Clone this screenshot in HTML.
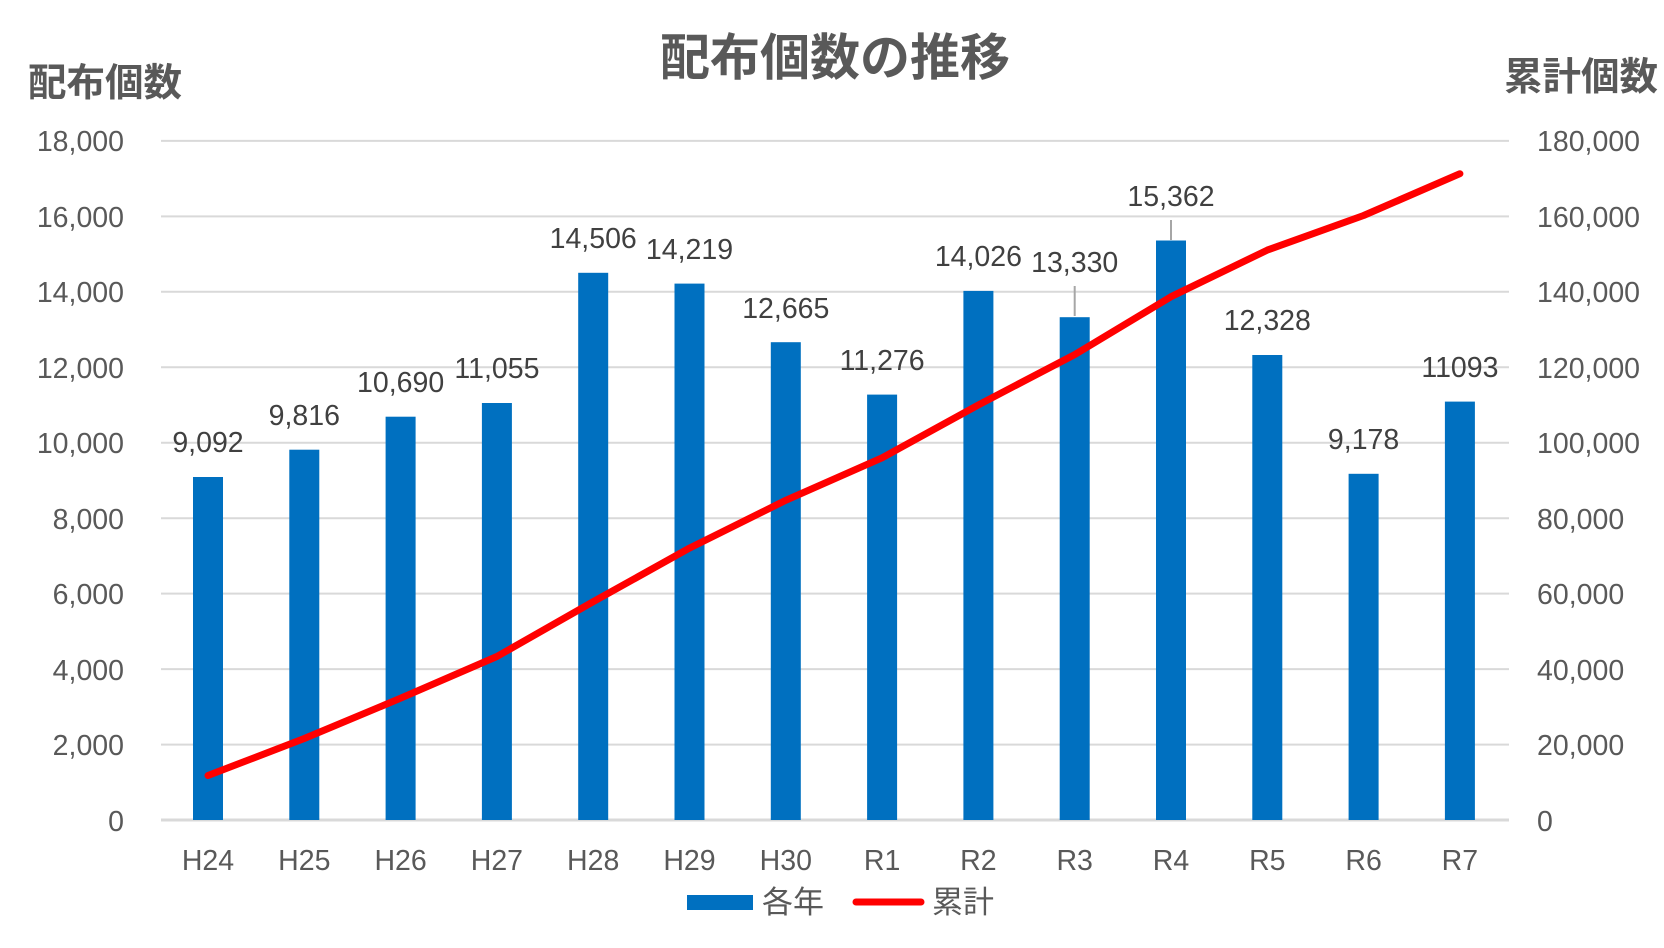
<!DOCTYPE html>
<html><head><meta charset="utf-8"><style>
html,body{margin:0;padding:0;background:#fff;}
svg{display:block;}
text{font-family:"Liberation Sans","Noto Sans CJK JP",sans-serif;fill:#595959;}
.t{font-size:28.5px;}
.d{font-size:28.5px;fill:#404040;text-anchor:middle;}
</style></head><body>
<svg width="1664" height="948" viewBox="0 0 1664 948" xmlns="http://www.w3.org/2000/svg">
<rect width="1664" height="948" fill="#fff"/>
<g stroke="#d9d9d9" stroke-width="2">
<line x1="161" x2="1509" y1="140.9" y2="140.9"/>
<line x1="161" x2="1509" y1="216.4" y2="216.4"/>
<line x1="161" x2="1509" y1="291.8" y2="291.8"/>
<line x1="161" x2="1509" y1="367.3" y2="367.3"/>
<line x1="161" x2="1509" y1="442.7" y2="442.7"/>
<line x1="161" x2="1509" y1="518.2" y2="518.2"/>
<line x1="161" x2="1509" y1="593.6" y2="593.6"/>
<line x1="161" x2="1509" y1="669.1" y2="669.1"/>
<line x1="161" x2="1509" y1="744.6" y2="744.6"/>
</g>
<line x1="161" x2="1509" y1="820" y2="820" stroke="#d9d9d9" stroke-width="3"/>
<g text-anchor="end">
<text class="t" x="124" y="151">18,000</text>
<text class="t" x="124" y="227">16,000</text>
<text class="t" x="124" y="302">14,000</text>
<text class="t" x="124" y="378">12,000</text>
<text class="t" x="124" y="453">10,000</text>
<text class="t" x="124" y="529">8,000</text>
<text class="t" x="124" y="604">6,000</text>
<text class="t" x="124" y="680">4,000</text>
<text class="t" x="124" y="755">2,000</text>
<text class="t" x="124" y="831">0</text>
</g>
<g>
<text class="t" x="1537" y="151">180,000</text>
<text class="t" x="1537" y="227">160,000</text>
<text class="t" x="1537" y="302">140,000</text>
<text class="t" x="1537" y="378">120,000</text>
<text class="t" x="1537" y="453">100,000</text>
<text class="t" x="1537" y="529">80,000</text>
<text class="t" x="1537" y="604">60,000</text>
<text class="t" x="1537" y="680">40,000</text>
<text class="t" x="1537" y="755">20,000</text>
<text class="t" x="1537" y="831">0</text>
</g>
<g fill="#0070c0">
<rect x="193" y="477.0" width="30" height="343"/>
<rect x="289.3" y="449.7" width="30" height="370.3"/>
<rect x="385.6" y="416.7" width="30" height="403.3"/>
<rect x="481.9" y="403.0" width="30" height="417"/>
<rect x="578.2" y="272.8" width="30" height="547.2"/>
<rect x="674.5" y="283.6" width="30" height="536.4"/>
<rect x="770.8" y="342.2" width="30" height="477.8"/>
<rect x="867.1" y="394.6" width="30" height="425.4"/>
<rect x="963.4" y="290.9" width="30" height="529.1"/>
<rect x="1059.7" y="317.2" width="30" height="502.8"/>
<rect x="1156" y="240.5" width="30" height="579.5"/>
<rect x="1252.3" y="355.0" width="30" height="465"/>
<rect x="1348.6" y="473.8" width="30" height="346.2"/>
<rect x="1444.9" y="401.6" width="30" height="418.4"/>
</g>
<polyline fill="none" stroke="#ff0000" stroke-width="7" stroke-linecap="round" stroke-linejoin="round"
points="208,775.5 304.3,738.5 400.6,698.2 496.9,656.5 593.2,601.7 689.5,548.1 785.8,500.3 882.1,457.8 978.4,404.9 1074.7,354.6 1171,296.7 1267.3,250.1 1363.6,215.5 1459.9,173.7"/>
<g stroke="#a6a6a6" stroke-width="2">
<line x1="1074.7" x2="1074.7" y1="286" y2="316"/>
<line x1="1171" x2="1171" y1="220" y2="240"/>
</g>
<text class="d" x="208" y="452">9,092</text>
<text class="d" x="304.3" y="425">9,816</text>
<text class="d" x="400.6" y="392">10,690</text>
<text class="d" x="496.9" y="378">11,055</text>
<text class="d" x="593.2" y="248">14,506</text>
<text class="d" x="689.5" y="259">14,219</text>
<text class="d" x="785.8" y="318">12,665</text>
<text class="d" x="882.1" y="370">11,276</text>
<text class="d" x="978.4" y="266">14,026</text>
<text class="d" x="1074.7" y="272">13,330</text>
<text class="d" x="1171" y="206">15,362</text>
<text class="d" x="1267.3" y="330">12,328</text>
<text class="d" x="1363.6" y="449">9,178</text>
<text class="d" x="1459.9" y="377">11093</text>
<g>
<text class="t" x="208" y="870" text-anchor="middle">H24</text>
<text class="t" x="304.3" y="870" text-anchor="middle">H25</text>
<text class="t" x="400.6" y="870" text-anchor="middle">H26</text>
<text class="t" x="496.9" y="870" text-anchor="middle">H27</text>
<text class="t" x="593.2" y="870" text-anchor="middle">H28</text>
<text class="t" x="689.5" y="870" text-anchor="middle">H29</text>
<text class="t" x="785.8" y="870" text-anchor="middle">H30</text>
<text class="t" x="882.1" y="870" text-anchor="middle">R1</text>
<text class="t" x="978.4" y="870" text-anchor="middle">R2</text>
<text class="t" x="1074.7" y="870" text-anchor="middle">R3</text>
<text class="t" x="1171" y="870" text-anchor="middle">R4</text>
<text class="t" x="1267.3" y="870" text-anchor="middle">R5</text>
<text class="t" x="1363.6" y="870" text-anchor="middle">R6</text>
<text class="t" x="1459.9" y="870" text-anchor="middle">R7</text>
</g>
<text x="835" y="75" text-anchor="middle" style="font-size:50px;font-weight:bold;">配布個数の推移</text>
<text x="28" y="96" style="font-size:38.5px;font-weight:bold;">配布個数</text>
<text x="1504" y="90" style="font-size:38.5px;font-weight:bold;">累計個数</text>
<rect x="687" y="895" width="66" height="15" fill="#0070c0"/>
<text x="762" y="913" style="font-size:31px;">各年</text>
<line x1="856" x2="921" y1="902" y2="902" stroke="#ff0000" stroke-width="7" stroke-linecap="round"/>
<text x="932" y="913" style="font-size:31px;">累計</text>
</svg>
</body></html>
